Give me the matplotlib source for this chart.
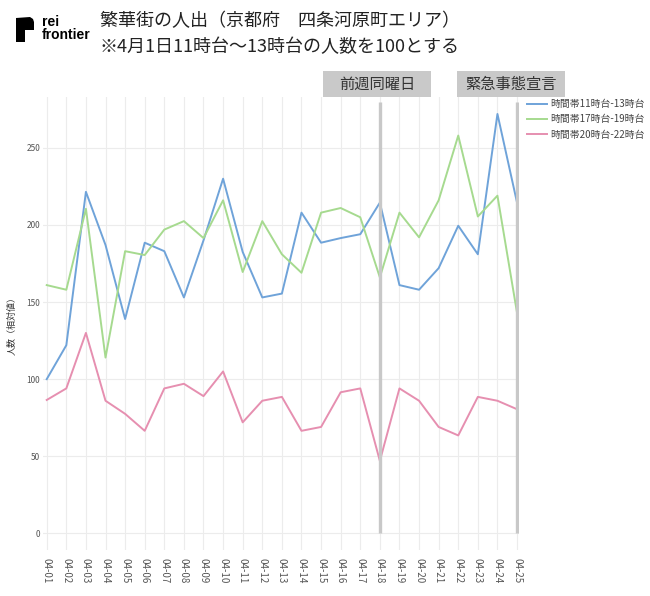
import matplotlib
matplotlib.use("Agg")
import matplotlib.pyplot as plt
import matplotlib.patches as mpatches
import numpy as np

plt.rcParams['font.family'] = ['Noto Sans CJK JP', 'DejaVu Sans']

# data
dates = ["04-%02d" % d for d in range(1, 26)]
noon = [100, 122, 221.5, 187, 139, 188.5, 183, 153, 190, 230, 182.5, 153, 155.5,
        208, 188.5, 191.5, 194, 214.5, 161, 158, 172, 199.5, 181, 272, 214.5]
evening = [161, 158, 210.5, 114, 183, 180.5, 197, 202.5, 191.5, 216, 169.5, 202.5, 181,
           169, 208, 211, 205, 166, 208, 192, 216, 258, 205.5, 219, 143]
night = [86.5, 94, 130, 86, 77.5, 66.5, 94, 97, 89, 105, 72, 86, 88.5,
         66.5, 69, 91.5, 94, 47, 94, 86, 69, 63.5, 88.5, 86, 80.5]
series_labels = ["時間帯11時台-13時台", "時間帯17時台-19時台", "時間帯20時台-22時台"]
series_colors = ["#6fa3d9", "#a6da8f", "#e68fb0"]
yticks = [0, 50, 100, 150, 200, 250]
marker_days = ["04-18", "04-25"]
marker_labels = ["前週同曜日", "緊急事態宣言"]

W, H = 650, 596
fig = plt.figure(figsize=(W / 100, H / 100), dpi=100)


def fx(px):
    return px / W


def fy(py):
    return 1 - py / H


ax = fig.add_axes([fx(43), fy(550), (519 - 43) / W, (550 - 97) / H])
x = np.arange(len(dates))

for vals, lab, col in zip([noon, evening, night], series_labels, series_colors):
    ax.plot(x, vals, color=col, lw=1.4, label=lab, zorder=3)

for d in marker_days:
    ax.vlines(dates.index(d), 0, 280, color="#c8c8c8", lw=2.4, zorder=4)

ax.set_xlim(-0.19, 24.1)
ax.set_ylim(-10.8, 283)
ax.set_xticks(x)
ax.set_xticklabels(dates, rotation=-90, fontsize=7, color="#555555")
ax.set_yticks(yticks)
ax.set_yticklabels([str(v) for v in yticks], fontsize=6, color="#555555")
ax.tick_params(length=0)
ax.tick_params(axis="x", pad=6)
ax.tick_params(axis="y", pad=2)
ax.grid(True, color="#ececec", lw=0.8)
ax.set_axisbelow(True)
for s in ax.spines.values():
    s.set_visible(False)
ax.set_ylabel("人数（相対値）", fontsize=6.5, color="#333333")
ax.yaxis.set_label_coords((17 - 43) / 476, 0.5)

leg = ax.legend(loc="upper left", bbox_to_anchor=(fx(527), fy(99)),
                bbox_transform=fig.transFigure, frameon=False, fontsize=7.1,
                handlelength=2.0, handletextpad=0.35, labelspacing=0.55,
                borderaxespad=0, borderpad=0)
for t in leg.get_texts():
    t.set_color("#444444")

# annotation boxes above the marker lines
for (left, right), lab in zip([(323, 431), (457, 565)], marker_labels):
    fig.patches.append(mpatches.Rectangle((fx(left), fy(97)), (right - left) / W, 26 / H,
                                          transform=fig.transFigure, facecolor="#c9c9c9",
                                          edgecolor="none"))
    fig.text(fx((left + right) / 2), fy(84), lab, ha="center", va="center",
             fontsize=11, color="#333333")

# title
fig.text(fx(100), fy(21), "繁華街の人出（京都府\u3000四条河原町エリア）",
         fontsize=13, color="#222222", va="center", ha="left")
fig.text(fx(100), fy(47), "※4月1日11時台～13時台の人数を100とする",
         fontsize=13, color="#222222", va="center", ha="left")

# logo
logo = [(16, 18), (30, 17), (33, 19), (34, 22), (34, 30), (25, 30), (25, 42), (16, 42)]
fig.patches.append(mpatches.Polygon([(fx(a), fy(b)) for a, b in logo], closed=True,
                                    transform=fig.transFigure, facecolor="black",
                                    edgecolor="none"))
fig.text(fx(42), fy(22.5), "rei", fontsize=10, fontweight="bold",
         family="Liberation Sans", va="center", ha="left")
fig.text(fx(42), fy(35), "frontier", fontsize=10, fontweight="bold",
         family="Liberation Sans", va="center", ha="left")

fig.savefig("out.png", dpi=100)
